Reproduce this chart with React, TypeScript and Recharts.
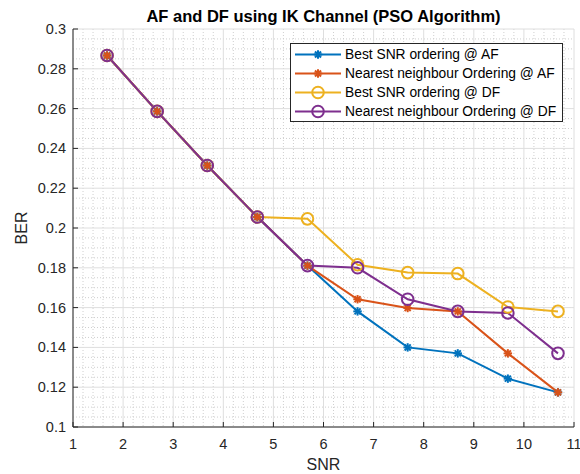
import { LineChart, Line, XAxis, YAxis, CartesianGrid, Legend } from 'recharts';

// SNR positions of the markers
const snr = [1.68, 2.68, 3.68, 4.68, 5.68, 6.68, 7.68, 8.68, 9.68, 10.68];

// BER values
const bestAF = [0.2867, 0.2586, 0.2314, 0.2055, 0.1811, 0.1581, 0.14, 0.137, 0.1243, 0.1174];
const nearestAF = [0.2867, 0.2586, 0.2314, 0.2055, 0.1811, 0.1642, 0.1598, 0.1581, 0.137, 0.1174];
const bestDF = [0.2867, 0.2586, 0.2314, 0.2055, 0.2046, 0.1815, 0.1776, 0.1771, 0.1603, 0.1581];
const nearestDF = [0.2867, 0.2586, 0.2314, 0.2055, 0.1811, 0.18, 0.1642, 0.1581, 0.1573, 0.137];

const xTicks = [1, 2, 3, 4, 5, 6, 7, 8, 9, 10, 11];
const yTicks = [0.1, 0.12, 0.14, 0.16, 0.18, 0.2, 0.22, 0.24, 0.26, 0.28, 0.3];

// minor grid (MATLAB style dotted)
const xMinor: number[] = [];
for (let i = 0; i <= 50; i++) if (i % 5 !== 0) xMinor.push(1 + i * 0.2);
const yMinor: number[] = [];
for (let i = 0; i <= 40; i++) if (i % 4 !== 0) yMinor.push(0.1 + i * 0.005);

const series = [
  { key: 'bestAF', name: 'Best SNR ordering @ AF', color: '#0072BD', marker: 'star' },
  { key: 'nearestAF', name: 'Nearest neighbour Ordering @ AF', color: '#D95319', marker: 'star' },
  { key: 'bestDF', name: 'Best SNR ordering @ DF', color: '#EDB120', marker: 'circle' },
  { key: 'nearestDF', name: 'Nearest neighbour Ordering @ DF', color: '#7E2F8E', marker: 'circle' },
];

const data = snr.map((x, i) => ({
  snr: x,
  bestAF: bestAF[i],
  nearestAF: nearestAF[i],
  bestDF: bestDF[i],
  nearestDF: nearestDF[i],
}));

const FONT = '"Liberation Sans", Arial, Helvetica, sans-serif';
const AXIS = '#262626';
const TICK_FS = 14.5;

const Marker = ({ cx, cy, color, type }: any) => {
  if (type === 'circle') {
    return <circle cx={cx} cy={cy} r={5.8} fill="none" stroke={color} strokeWidth={2} />;
  }
  const r = 4.2;
  const d = r * 0.72;
  return (
    <g stroke={color} strokeWidth={2}>
      <line x1={cx - r} y1={cy} x2={cx + r} y2={cy} />
      <line x1={cx} y1={cy - r} x2={cx} y2={cy + r} />
      <line x1={cx - d} y1={cy - d} x2={cx + d} y2={cy + d} />
      <line x1={cx - d} y1={cy + d} x2={cx + d} y2={cy - d} />
    </g>
  );
};

const BottomTick = ({ x, y, payload }: any) => (
  <g>
    <line x1={x} x2={x} y1={y} y2={y - 5} stroke={AXIS} />
    <text x={x} y={y + 21.5} textAnchor="middle" fontSize={TICK_FS} fill={AXIS} fontFamily={FONT}>
      {payload.value}
    </text>
  </g>
);

const TopTick = ({ x, y }: any) => <line x1={x} x2={x} y1={y} y2={y + 5} stroke={AXIS} />;

const LeftTick = ({ x, y, payload }: any) => (
  <g>
    <line x1={x} x2={x + 5} y1={y} y2={y} stroke={AXIS} />
    <text x={x - 7} y={y + 5} textAnchor="end" fontSize={TICK_FS} fill={AXIS} fontFamily={FONT}>
      {String(Number(payload.value.toFixed(2)))}
    </text>
  </g>
);

const RightTick = ({ x, y }: any) => <line x1={x} x2={x - 5} y1={y} y2={y} stroke={AXIS} />;

const renderLegend = () => (
  <div
    style={{
      border: `1px solid ${AXIS}`,
      background: '#fff',
      width: 271,
      paddingTop: 1,
      fontFamily: FONT,
    }}
  >
    {series.map((s) => (
      <div key={s.key} style={{ display: 'flex', alignItems: 'center', height: 19 }}>
        <svg width={54} height={19} style={{ display: 'block' }}>
          <line x1={4} x2={50} y1={9.5} y2={9.5} stroke={s.color} strokeWidth={2} />
          <Marker cx={27} cy={9.5} color={s.color} type={s.marker} />
        </svg>
        <span style={{ fontSize: 13.8, color: '#000', whiteSpace: 'nowrap' }}>{s.name}</span>
      </div>
    ))}
  </div>
);

export default function App() {
  return (
    <div style={{ position: 'absolute', left: 0, top: 0, width: 580, height: 474, background: '#fff', fontFamily: FONT }}>
      <div
        style={{
          position: 'absolute',
          left: 73,
          width: 501,
          top: 8,
          textAlign: 'center',
          fontSize: 16.5,
          lineHeight: '16.5px',
          fontWeight: 'bold',
          color: '#000',
          whiteSpace: 'nowrap',
        }}
      >
        AF and DF using IK Channel (PSO Algorithm)
      </div>
      <LineChart width={580} height={474} data={data} margin={{ top: 29, right: 6, bottom: 0, left: 0 }}>
        <CartesianGrid
          xAxisId="b"
          yAxisId="l"
          stroke="#cfcfcf"
          strokeDasharray="1 2"
          syncWithTicks={false}
          horizontalCoordinatesGenerator={({ yAxis, offset }: any) =>
            yMinor.map((v) =>
              yAxis && typeof yAxis.scale === 'function'
                ? yAxis.scale(v)
                : offset.top + (offset.height * (0.3 - v)) / 0.2
            )
          }
          verticalCoordinatesGenerator={({ xAxis, offset }: any) =>
            xMinor.map((v) =>
              xAxis && typeof xAxis.scale === 'function'
                ? xAxis.scale(v)
                : offset.left + (offset.width * (v - 1)) / 10
            )
          }
        />
        <CartesianGrid xAxisId="b" yAxisId="l" stroke="#dedede" strokeWidth={1} />
        <XAxis
          xAxisId="b"
          dataKey="snr"
          type="number"
          domain={[1, 11]}
          ticks={xTicks}
          allowDataOverflow
          height={47}
          stroke={AXIS}
          tickLine={false}
          tickSize={0}
          tickMargin={0}
          tick={<BottomTick />}
          interval={0}
          label={{
            content: ({ viewBox }: any) => (
              <text
                x={viewBox.x + viewBox.width / 2}
                y={viewBox.y + 43}
                textAnchor="middle"
                fontSize={16}
                fill={AXIS}
                fontFamily={FONT}
              >
                SNR
              </text>
            ),
          }}
        />
        <XAxis
          xAxisId="t"
          orientation="top"
          dataKey="snr"
          type="number"
          domain={[1, 11]}
          ticks={xTicks}
          allowDataOverflow
          height={0}
          stroke={AXIS}
          tickLine={false}
          tickSize={0}
          tickMargin={0}
          tick={<TopTick />}
          interval={0}
        />
        <YAxis
          yAxisId="l"
          type="number"
          domain={[0.1, 0.3]}
          ticks={yTicks}
          allowDataOverflow
          width={73}
          stroke={AXIS}
          tickLine={false}
          tickSize={0}
          tickMargin={0}
          tick={<LeftTick />}
          interval={0}
          label={{
            content: ({ viewBox }: any) => {
              const cx = 27;
              const cy = viewBox.y + viewBox.height / 2;
              return (
                <text
                  x={cx}
                  y={cy}
                  textAnchor="middle"
                  fontSize={16}
                  fill={AXIS}
                  fontFamily={FONT}
                  transform={`rotate(-90, ${cx}, ${cy})`}
                >
                  BER
                </text>
              );
            },
          }}
        />
        <YAxis
          yAxisId="r"
          orientation="right"
          type="number"
          domain={[0.1, 0.3]}
          ticks={yTicks}
          allowDataOverflow
          width={0}
          stroke={AXIS}
          tickLine={false}
          tickSize={0}
          tickMargin={0}
          tick={<RightTick />}
          interval={0}
        />
        <Legend
          layout="horizontal"
          verticalAlign="middle"
          align="center"
          content={renderLegend}
          wrapperStyle={{ left: 290, top: 43, width: 273 }}
        />
        {series.map((s) => (
          <Line
            key={s.key}
            xAxisId="b"
            yAxisId="l"
            dataKey={s.key}
            name={s.name}
            stroke={s.color}
            strokeWidth={2}
            isAnimationActive={false}
            activeDot={false}
            dot={(p: any) => (
              <Marker key={`${s.key}-${p.index}`} cx={p.cx} cy={p.cy} color={s.color} type={s.marker} />
            )}
          />
        ))}
      </LineChart>
    </div>
  );
}
